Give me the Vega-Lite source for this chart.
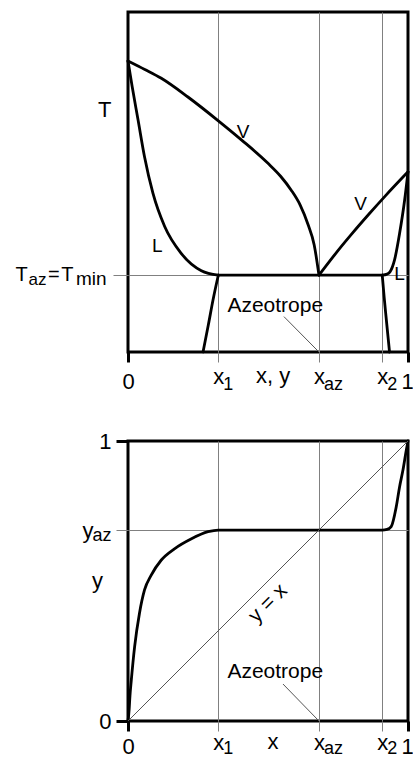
{
  "$schema": "https://vega.github.io/schema/vega-lite/v6.json",
  "background": "white",
  "padding": {"left": 14, "top": 10, "right": 2, "bottom": 3},
  "bounds": "flush",
  "spacing": 89,
  "config": {
    "font": "Liberation Sans",
    "view": {"stroke": "black", "strokeWidth": 3},
    "text": {"font": "Liberation Sans", "color": "black"}
  },
  "datasets": {
    "txy": [
      {"curve": "V1", "x": 0, "T": 0.856},
      {"curve": "V1", "x": 0.06, "T": 0.831},
      {"curve": "V1", "x": 0.119, "T": 0.805},
      {"curve": "V1", "x": 0.214, "T": 0.75},
      {"curve": "V1", "x": 0.3226, "T": 0.68},
      {"curve": "V1", "x": 0.405, "T": 0.624},
      {"curve": "V1", "x": 0.5, "T": 0.555},
      {"curve": "V1", "x": 0.545, "T": 0.517},
      {"curve": "V1", "x": 0.583, "T": 0.476},
      {"curve": "V1", "x": 0.615, "T": 0.432},
      {"curve": "V1", "x": 0.643, "T": 0.375},
      {"curve": "V1", "x": 0.665, "T": 0.315},
      {"curve": "V1", "x": 0.682, "T": 0.226},
      {"curve": "V2", "x": 0.682, "T": 0.226},
      {"curve": "V2", "x": 0.74, "T": 0.288},
      {"curve": "V2", "x": 0.8, "T": 0.348},
      {"curve": "V2", "x": 0.86, "T": 0.405},
      {"curve": "V2", "x": 0.92, "T": 0.46},
      {"curve": "V2", "x": 1, "T": 0.53},
      {"curve": "L1", "x": 0, "T": 0.856},
      {"curve": "L1", "x": 0.015, "T": 0.78},
      {"curve": "L1", "x": 0.036, "T": 0.682},
      {"curve": "L1", "x": 0.059, "T": 0.574},
      {"curve": "L1", "x": 0.089, "T": 0.467},
      {"curve": "L1", "x": 0.131, "T": 0.369},
      {"curve": "L1", "x": 0.19, "T": 0.29},
      {"curve": "L1", "x": 0.262, "T": 0.239},
      {"curve": "L1", "x": 0.3226, "T": 0.226},
      {"curve": "L2", "x": 0.908, "T": 0.226},
      {"curve": "L2", "x": 0.925, "T": 0.229},
      {"curve": "L2", "x": 0.936, "T": 0.236},
      {"curve": "L2", "x": 0.952, "T": 0.271},
      {"curve": "L2", "x": 0.97, "T": 0.349},
      {"curve": "L2", "x": 0.988, "T": 0.447},
      {"curve": "L2", "x": 1, "T": 0.53},
      {"curve": "tie", "x": 0.3226, "T": 0.226},
      {"curve": "tie", "x": 0.908, "T": 0.226},
      {"curve": "S1", "x": 0.268, "T": 0},
      {"curve": "S1", "x": 0.287, "T": 0.08},
      {"curve": "S1", "x": 0.3036, "T": 0.153},
      {"curve": "S1", "x": 0.3226, "T": 0.226},
      {"curve": "S2", "x": 0.908, "T": 0.226},
      {"curve": "S2", "x": 0.915, "T": 0.16},
      {"curve": "S2", "x": 0.922, "T": 0.1},
      {"curve": "S2", "x": 0.934, "T": 0}
    ],
    "yx": [
      {"x": 0, "y": 0},
      {"x": 0.004, "y": 0.04},
      {"x": 0.007, "y": 0.09},
      {"x": 0.0118, "y": 0.146},
      {"x": 0.0236, "y": 0.265},
      {"x": 0.041, "y": 0.385},
      {"x": 0.059, "y": 0.468},
      {"x": 0.083, "y": 0.521},
      {"x": 0.119, "y": 0.575},
      {"x": 0.166, "y": 0.615},
      {"x": 0.225, "y": 0.65},
      {"x": 0.286, "y": 0.676},
      {"x": 0.3226, "y": 0.682},
      {"x": 0.908, "y": 0.682},
      {"x": 0.925, "y": 0.684},
      {"x": 0.94, "y": 0.694},
      {"x": 0.958, "y": 0.765},
      {"x": 0.97, "y": 0.837},
      {"x": 0.982, "y": 0.896},
      {"x": 0.994, "y": 0.968},
      {"x": 1, "y": 1}
    ],
    "xsubs": [
      {"x": 0.3226, "text": "1"},
      {"x": 0.682, "text": "az"},
      {"x": 0.908, "text": "2"}
    ]
  },
  "vconcat": [
    {
      "width": 280,
      "height": 340,
      "layer": [
        {
          "data": {"name": "txy"},
          "mark": {"type": "line", "color": "black", "strokeWidth": 2.8, "interpolate": "monotone", "strokeJoin": "round", "strokeCap": "round"},
          "encoding": {
            "x": {
              "field": "x", "type": "quantitative",
              "scale": {"domain": [0, 1], "nice": false},
              "axis": {
                "values": [0, 0.3226, 0.682, 0.908, 1],
                "title": null, "domain": false, "grid": true,
                "gridColor": "#808080", "gridWidth": 1,
                "gridOpacity": {"condition": {"test": "datum.value == 0 || datum.value == 1", "value": 0}, "value": 1},
                "tickSize": 10,
                "tickColor": {"condition": {"test": "datum.value == 0 || datum.value == 1", "value": "black"}, "value": "#808080"},
                "tickWidth": {"condition": {"test": "datum.value == 0 || datum.value == 1", "value": 3}, "value": 1},
                "labelExpr": "datum.value == 0 ? '0' : datum.value == 1 ? '1' : 'x'",
                "labelFontSize": 22, "labelColor": "black", "labelAngle": 0,
                "labelBaseline": "alphabetic", "labelFlush": false, "labelOverlap": false,
                "labelOffset": {"condition": {"test": "datum.value == 1", "value": -1}, "value": 0},
                "labelPadding": {"condition": {"test": "datum.value == 0 || datum.value == 1", "value": 26}, "value": 21}
              }
            },
            "y": {
              "field": "T", "type": "quantitative",
              "scale": {"domain": [0, 1], "nice": false},
              "axis": {
                "values": [0.226], "title": null, "domain": false, "grid": true,
                "gridColor": "#808080", "gridWidth": 1,
                "tickSize": 15, "tickColor": "#808080", "tickWidth": 1, "labels": false
              }
            },
            "detail": {"field": "curve"}
          }
        },
        {
          "data": {"values": [{"x": 0.557, "T": 0.104, "x2": 0.682, "T2": 0}]},
          "mark": {"type": "rule", "color": "#555555", "strokeWidth": 1},
          "encoding": {
            "x": {"field": "x", "type": "quantitative"},
            "y": {"field": "T", "type": "quantitative"},
            "x2": {"field": "x2"},
            "y2": {"field": "T2"}
          }
        },
        {
          "data": {"values": [
            {"x": 0.4107, "T": 0.6285, "text": "V"},
            {"x": 0.8304, "T": 0.4176, "text": "V"},
            {"x": 0.1046, "T": 0.295, "text": "L"},
            {"x": 0.9698, "T": 0.2118, "text": "L"}
          ]},
          "mark": {"type": "text", "fontSize": 19, "align": "center", "baseline": "alphabetic"},
          "encoding": {
            "x": {"field": "x", "type": "quantitative"},
            "y": {"field": "T", "type": "quantitative"},
            "text": {"field": "text"}
          }
        },
        {
          "data": {"values": [{"x": 0.526, "T": 0.1185, "text": "Azeotrope"}]},
          "mark": {"type": "text", "fontSize": 21, "align": "center", "baseline": "alphabetic"},
          "encoding": {
            "x": {"field": "x", "type": "quantitative"},
            "y": {"field": "T", "type": "quantitative"},
            "text": {"field": "text"}
          }
        },
        {
          "data": {"name": "xsubs"},
          "mark": {"type": "text", "fontSize": 18, "align": "left", "baseline": "alphabetic", "dx": 5, "dy": 38},
          "encoding": {
            "x": {"field": "x", "type": "quantitative"},
            "y": {"datum": 0},
            "text": {"field": "text"}
          }
        },
        {
          "data": {"values": [{"x": 0.518, "text": "x, y"}]},
          "mark": {"type": "text", "fontSize": 22, "align": "center", "baseline": "alphabetic", "dy": 31.3},
          "encoding": {
            "x": {"field": "x", "type": "quantitative"},
            "y": {"datum": 0},
            "text": {"field": "text"}
          }
        },
        {
          "data": {"values": [{"T": 0.692, "text": "T"}]},
          "mark": {"type": "text", "fontSize": 22, "align": "right", "baseline": "alphabetic", "dx": -16.5},
          "encoding": {
            "x": {"datum": 0},
            "y": {"field": "T", "type": "quantitative"},
            "text": {"field": "text"}
          }
        },
        {
          "data": {"values": [{"T": 0.226, "text": "T"}]},
          "mark": {"type": "text", "fontSize": 20, "align": "right", "baseline": "alphabetic", "dx": -100.2, "dy": 6.3},
          "encoding": {
            "x": {"datum": 0},
            "y": {"field": "T", "type": "quantitative"},
            "text": {"field": "text"}
          }
        },
        {
          "data": {"values": [{"T": 0.226, "text": "az"}]},
          "mark": {"type": "text", "fontSize": 17, "align": "right", "baseline": "alphabetic", "dx": -81.5, "dy": 10.3},
          "encoding": {
            "x": {"datum": 0},
            "y": {"field": "T", "type": "quantitative"},
            "text": {"field": "text"}
          }
        },
        {
          "data": {"values": [{"T": 0.226, "text": "="}]},
          "mark": {"type": "text", "fontSize": 20, "align": "center", "baseline": "alphabetic", "dx": -74.2, "dy": 6.3},
          "encoding": {
            "x": {"datum": 0},
            "y": {"field": "T", "type": "quantitative"},
            "text": {"field": "text"}
          }
        },
        {
          "data": {"values": [{"T": 0.226, "text": "T"}]},
          "mark": {"type": "text", "fontSize": 20, "align": "right", "baseline": "alphabetic", "dx": -54.5, "dy": 6.3},
          "encoding": {
            "x": {"datum": 0},
            "y": {"field": "T", "type": "quantitative"},
            "text": {"field": "text"}
          }
        },
        {
          "data": {"values": [{"T": 0.226, "text": "min"}]},
          "mark": {"type": "text", "fontSize": 19, "align": "center", "baseline": "alphabetic", "dx": -36.7, "dy": 10.3},
          "encoding": {
            "x": {"datum": 0},
            "y": {"field": "T", "type": "quantitative"},
            "text": {"field": "text"}
          }
        }
      ]
    },
    {
      "width": 280,
      "height": 280,
      "layer": [
        {
          "data": {"name": "yx"},
          "mark": {"type": "line", "color": "black", "strokeWidth": 2.8, "interpolate": "monotone", "strokeJoin": "round", "strokeCap": "round"},
          "encoding": {
            "x": {
              "field": "x", "type": "quantitative",
              "scale": {"domain": [0, 1], "nice": false},
              "axis": {
                "values": [0, 0.3226, 0.682, 0.908, 1],
                "title": null, "domain": false, "grid": true,
                "gridColor": "#808080", "gridWidth": 1,
                "gridOpacity": {"condition": {"test": "datum.value == 0 || datum.value == 1", "value": 0}, "value": 1},
                "tickSize": 10,
                "tickColor": {"condition": {"test": "datum.value == 0 || datum.value == 1", "value": "black"}, "value": "#808080"},
                "tickWidth": {"condition": {"test": "datum.value == 0 || datum.value == 1", "value": 3}, "value": 1},
                "labelExpr": "datum.value == 0 ? '0' : datum.value == 1 ? '1' : 'x'",
                "labelFontSize": 22, "labelColor": "black", "labelAngle": 0,
                "labelBaseline": "alphabetic", "labelFlush": false, "labelOverlap": false,
                "labelOffset": {"condition": {"test": "datum.value == 1", "value": -1}, "value": 0},
                "labelPadding": {"condition": {"test": "datum.value == 0 || datum.value == 1", "value": 22}, "value": 18}
              }
            },
            "y": {
              "field": "y", "type": "quantitative",
              "scale": {"domain": [0, 1], "nice": false},
              "axis": {
                "values": [0, 0.682, 1],
                "title": null, "domain": false, "grid": true,
                "gridColor": "#808080", "gridWidth": 1,
                "gridOpacity": {"condition": {"test": "datum.value == 0 || datum.value == 1", "value": 0}, "value": 1},
                "tickSize": 12,
                "tickColor": {"condition": {"test": "datum.value == 0 || datum.value == 1", "value": "black"}, "value": "#808080"},
                "tickWidth": {"condition": {"test": "datum.value == 0 || datum.value == 1", "value": 3}, "value": 1},
                "labelExpr": "datum.value == 0 ? '0' : datum.value == 1 ? '1' : 'y'",
                "labelFontSize": 22, "labelColor": "black",
                "labelBaseline": "middle", "labelFlush": false, "labelOverlap": false,
                "labelPadding": {"condition": {"test": "datum.value == 0 || datum.value == 1", "value": 5}, "value": 23}
              }
            }
          }
        },
        {
          "data": {"values": [{"x": 0, "y": 0, "x2": 1, "y2": 1}]},
          "mark": {"type": "rule", "color": "#555555", "strokeWidth": 1},
          "encoding": {
            "x": {"field": "x", "type": "quantitative"},
            "y": {"field": "y", "type": "quantitative"},
            "x2": {"field": "x2"},
            "y2": {"field": "y2"}
          }
        },
        {
          "data": {"values": [{"x": 0.5536, "y": 0.132, "x2": 0.682, "y2": 0}]},
          "mark": {"type": "rule", "color": "#555555", "strokeWidth": 1},
          "encoding": {
            "x": {"field": "x", "type": "quantitative"},
            "y": {"field": "y", "type": "quantitative"},
            "x2": {"field": "x2"},
            "y2": {"field": "y2"}
          }
        },
        {
          "data": {"values": [{"x": 0.526, "y": 0.1525, "text": "Azeotrope"}]},
          "mark": {"type": "text", "fontSize": 21, "align": "center", "baseline": "alphabetic"},
          "encoding": {
            "x": {"field": "x", "type": "quantitative"},
            "y": {"field": "y", "type": "quantitative"},
            "text": {"field": "text"}
          }
        },
        {
          "data": {"values": [{"x": 0.46, "y": 0.46, "text": "y = x"}]},
          "mark": {"type": "text", "fontSize": 21, "align": "center", "baseline": "middle", "angle": 315, "dy": 16},
          "encoding": {
            "x": {"field": "x", "type": "quantitative"},
            "y": {"field": "y", "type": "quantitative"},
            "text": {"field": "text"}
          }
        },
        {
          "data": {"name": "xsubs"},
          "mark": {"type": "text", "fontSize": 18, "align": "left", "baseline": "alphabetic", "dx": 5, "dy": 33},
          "encoding": {
            "x": {"field": "x", "type": "quantitative"},
            "y": {"datum": 0},
            "text": {"field": "text"}
          }
        },
        {
          "data": {"values": [{"x": 0.518, "text": "x"}]},
          "mark": {"type": "text", "fontSize": 22, "align": "center", "baseline": "alphabetic", "dy": 28},
          "encoding": {
            "x": {"field": "x", "type": "quantitative"},
            "y": {"datum": 0},
            "text": {"field": "text"}
          }
        },
        {
          "data": {"values": [{"y": 0.682, "text": "az"}]},
          "mark": {"type": "text", "fontSize": 18, "align": "right", "baseline": "alphabetic", "dx": -16.5, "dy": 10.5},
          "encoding": {
            "x": {"datum": 0},
            "y": {"field": "y", "type": "quantitative"},
            "text": {"field": "text"}
          }
        },
        {
          "data": {"values": [{"y": 0.475, "text": "y"}]},
          "mark": {"type": "text", "fontSize": 22, "align": "right", "baseline": "alphabetic", "dx": -25},
          "encoding": {
            "x": {"datum": 0},
            "y": {"field": "y", "type": "quantitative"},
            "text": {"field": "text"}
          }
        }
      ]
    }
  ]
}
